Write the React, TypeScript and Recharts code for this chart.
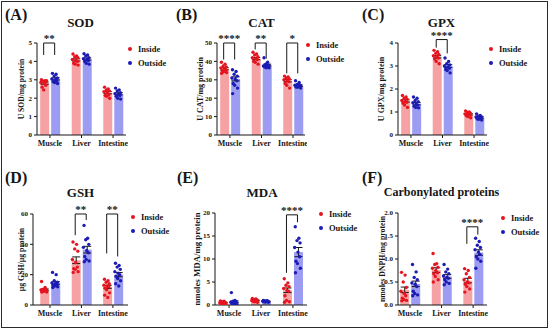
import { ComposedChart, Bar, Scatter, XAxis, YAxis, ErrorBar, ReferenceLine } from 'recharts';

const CATEGORIES = ['Muscle', 'Liver', 'Intestine'];
const SERIES = ['Inside', 'Outside'];

// (A) SOD
const SOD_IN = [
  [3.0, 2.95, 2.92, 2.9, 2.85, 2.8, 2.7, 2.6, 2.45, 2.95],
  [4.4, 4.3, 4.25, 4.2, 4.1, 4.05, 4.0, 3.9, 3.85, 3.8],
  [2.6, 2.5, 2.45, 2.4, 2.35, 2.3, 2.2, 2.15, 2.1, 2.0],
];
const SOD_OUT = [
  [3.35, 3.3, 3.2, 3.1, 3.05, 3.0, 2.95, 2.9, 2.85, 2.8],
  [4.42, 4.35, 4.3, 4.2, 4.15, 4.1, 4.05, 4.0, 3.9, 3.85],
  [2.55, 2.45, 2.4, 2.3, 2.25, 2.2, 2.15, 2.1, 2.0, 1.95],
];
const SOD_MEAN_IN = [2.82, 4.08, 2.3];
const SOD_MEAN_OUT = [3.05, 4.13, 2.24];
const SOD_SEM_IN = [0.06, 0.06, 0.06];
const SOD_SEM_OUT = [0.06, 0.06, 0.06];
const SOD_TICKS = [0, 1, 2, 3, 4, 5];
const SOD_SIG = [{ cat: 0, top: 5, left: 4.35, right: 4.35, label: '**' }];

// (B) CAT
const CAT_IN = [
  [39.5, 38.5, 37.5, 37, 36.5, 36, 35.5, 35, 34.5, 34, 33.5],
  [45, 44, 43.5, 42.5, 42, 41.5, 41, 40, 39.5, 38.5],
  [32, 31.5, 31, 30.5, 30, 29.5, 29, 28, 27, 25.5],
];
const CAT_OUT = [
  [35.5, 34.5, 33, 32, 31, 30.5, 29.5, 28, 27, 25.5, 22.5],
  [42, 39.5, 38.5, 38, 37.5, 37.5, 37, 37, 36.5, 36.5],
  [29.5, 28.5, 27.5, 27, 27, 26.5, 26.5, 26, 26, 25.5],
];
const CAT_MEAN_IN = [36, 41.5, 29.5];
const CAT_MEAN_OUT = [30.5, 38, 26.8];
const CAT_SEM_IN = [0.6, 0.6, 0.6];
const CAT_SEM_OUT = [1.1, 0.5, 0.4];
const CAT_TICKS = [0, 10, 20, 30, 40, 50];
const CAT_SIG = [
  { cat: 0, top: 50, left: 41, right: 41, label: '****' },
  { cat: 1, top: 50, left: 46.5, right: 41.5, label: '**' },
  { cat: 2, top: 50, left: 33.5, right: 33.5, label: '*' },
];

// (C) GPX
const GPX_IN = [
  [1.72, 1.65, 1.6, 1.55, 1.5, 1.45, 1.42, 1.38, 1.3, 1.2],
  [3.68, 3.62, 3.55, 3.5, 3.45, 3.4, 3.35, 3.3, 3.2, 3.1],
  [1.05, 1.0, 0.98, 0.95, 0.92, 0.9, 0.88, 0.85, 0.8, 0.75],
];
const GPX_OUT = [
  [1.65, 1.6, 1.5, 1.45, 1.4, 1.35, 1.3, 1.25, 1.2, 1.18],
  [3.35, 3.2, 3.1, 3.05, 3.0, 2.95, 2.9, 2.85, 2.8, 2.7],
  [0.92, 0.85, 0.82, 0.8, 0.78, 0.75, 0.72, 0.7, 0.68, 0.65],
];
const GPX_MEAN_IN = [1.48, 3.4, 0.9];
const GPX_MEAN_OUT = [1.36, 3.0, 0.76];
const GPX_SEM_IN = [0.05, 0.05, 0.03];
const GPX_SEM_OUT = [0.05, 0.06, 0.03];
const GPX_TICKS = [0, 1, 2, 3, 4];
const GPX_SIG = [{ cat: 1, top: 4.15, left: 3.8, right: 3.55, label: '****' }];

// (D) GSH
const GSH_IN = [
  [15.5, 11.5, 10.5, 10, 10, 9.5, 9.5, 9, 9, 8.5, 8.5],
  [41.5, 40, 37, 35.5, 30, 28, 25, 24, 23.5, 22, 21.5],
  [17, 16, 15, 14, 13, 12.5, 12, 11, 10, 8, 6.5, 5],
];
const GSH_OUT = [
  [21.5, 20, 16, 15, 14.5, 14, 13.5, 13, 12.5, 12, 11.5],
  [52.5, 44, 43, 40, 38, 36, 34.5, 32, 30, 29, 28.5],
  [27.5, 26, 25, 23.5, 22, 21, 20, 19, 17.5, 16, 14, 12.5],
];
const GSH_MEAN_IN = [10, 29.5, 12];
const GSH_MEAN_OUT = [14.5, 36.5, 20];
const GSH_SEM_IN = [0.6, 2.2, 1.0];
const GSH_SEM_OUT = [0.9, 2.2, 1.4];
const GSH_TICKS = [0, 20, 40, 60];
const GSH_SIG = [
  { cat: 1, top: 60, left: 46, right: 56, label: '**' },
  { cat: 2, top: 60, left: 34, right: 32, label: '**' },
];

// (E) MDA
const MDA_IN = [
  [0.9, 0.8, 0.7, 0.6, 0.5, 0.45, 0.4, 0.35, 0.3, 0.2],
  [1.4, 1.3, 1.2, 1.1, 1.0, 0.95, 0.9, 0.8, 0.7, 0.6],
  [5.7, 4.8, 4.3, 4.0, 3.6, 3.2, 3.0, 2.0, 1.0, 0.7, 0.6],
];
const MDA_OUT = [
  [2.7, 1.0, 0.8, 0.7, 0.6, 0.5, 0.4, 0.3, 0.25, 0.2],
  [1.0, 0.95, 0.9, 0.85, 0.8, 0.8, 0.75, 0.7, 0.65, 0.6],
  [17, 14.5, 14, 13.5, 12.5, 11.5, 10.5, 9.5, 9, 8, 7],
];
const MDA_MEAN_IN = [0.5, 1.0, 3.2];
const MDA_MEAN_OUT = [0.7, 0.8, 11.5];
const MDA_SEM_IN = [0.07, 0.08, 0.5];
const MDA_SEM_OUT = [0.2, 0.04, 1.0];
const MDA_TICKS = [0, 5, 10, 15, 20];
const MDA_SIG = [{ cat: 2, top: 19.6, left: 7, right: 18, label: '****' }];

// (F) Carbonylated proteins
const CARB_IN = [
  [0.71, 0.65, 0.5, 0.38, 0.3, 0.25, 0.2, 0.15, 0.12, 0.1, 0.09],
  [1.12, 0.9, 0.88, 0.82, 0.8, 0.75, 0.7, 0.68, 0.62, 0.55, 0.5],
  [0.79, 0.75, 0.68, 0.6, 0.55, 0.5, 0.48, 0.45, 0.4, 0.35, 0.28],
];
const CARB_OUT = [
  [0.88, 0.72, 0.6, 0.55, 0.48, 0.45, 0.4, 0.3, 0.25, 0.22, 0.2],
  [0.88, 0.78, 0.72, 0.68, 0.63, 0.6, 0.58, 0.55, 0.5, 0.47, 0.44],
  [1.45, 1.38, 1.3, 1.25, 1.2, 1.15, 1.1, 1.05, 1.0, 0.95, 0.8],
];
const CARB_MEAN_IN = [0.33, 0.76, 0.53];
const CARB_MEAN_OUT = [0.46, 0.62, 1.14];
const CARB_SEM_IN = [0.06, 0.05, 0.05];
const CARB_SEM_OUT = [0.06, 0.04, 0.06];
const CARB_TICKS = [0, 0.5, 1, 1.5, 2];
const CARB_SIG = [{ cat: 2, top: 1.7, left: 1.33, right: 1.53, label: '****' }];

const FONT = '"Liberation Serif", "Times New Roman", serif';
const PINK = '#F6A2A4';
const LILAC = '#9C9CF2';
const RED = '#E5141E';
const BLUE = '#1C1CB4';
const INK = '#161616';

const YW = 30; // y axis width
const TM = 22; // room above plot for the stars
const XH = 20; // x axis height
const RM = 2;
const BAR_W = 9;
const BAR_GAP = 2;
const JITTER = [-2.2, 1.4, -0.5, 2.6, -2.8, 0.5, 2.1, -1.5, 0, 2.9, -2, 1.1];

type Sig = { cat: number; top: number; left: number; right: number; label: string };

const PANELS = [
  { tag: '(A)', title: 'SOD', yLabel: 'U SOD/mg protein', inside: SOD_IN, outside: SOD_OUT, meanIn: SOD_MEAN_IN, meanOut: SOD_MEAN_OUT, semIn: SOD_SEM_IN, semOut: SOD_SEM_OUT, ticks: SOD_TICKS, sig: SOD_SIG, dec: 0 },
  { tag: '(B)', title: 'CAT', yLabel: 'U CAT/mg protein', inside: CAT_IN, outside: CAT_OUT, meanIn: CAT_MEAN_IN, meanOut: CAT_MEAN_OUT, semIn: CAT_SEM_IN, semOut: CAT_SEM_OUT, ticks: CAT_TICKS, sig: CAT_SIG, dec: 0 },
  { tag: '(C)', title: 'GPX', yLabel: 'U GPX/mg protein', inside: GPX_IN, outside: GPX_OUT, meanIn: GPX_MEAN_IN, meanOut: GPX_MEAN_OUT, semIn: GPX_SEM_IN, semOut: GPX_SEM_OUT, ticks: GPX_TICKS, sig: GPX_SIG, dec: 0 },
  { tag: '(D)', title: 'GSH', yLabel: 'µg GSH/µg protein', inside: GSH_IN, outside: GSH_OUT, meanIn: GSH_MEAN_IN, meanOut: GSH_MEAN_OUT, semIn: GSH_SEM_IN, semOut: GSH_SEM_OUT, ticks: GSH_TICKS, sig: GSH_SIG, dec: 0 },
  { tag: '(E)', title: 'MDA', yLabel: 'nmoles MDA/mg protein', inside: MDA_IN, outside: MDA_OUT, meanIn: MDA_MEAN_IN, meanOut: MDA_MEAN_OUT, semIn: MDA_SEM_IN, semOut: MDA_SEM_OUT, ticks: MDA_TICKS, sig: MDA_SIG, dec: 0 },
  { tag: '(F)', title: 'Carbonylated proteins', yLabel: 'nmoles DNPH/mg protein', inside: CARB_IN, outside: CARB_OUT, meanIn: CARB_MEAN_IN, meanOut: CARB_MEAN_OUT, semIn: CARB_SEM_IN, semOut: CARB_SEM_OUT, ticks: CARB_TICKS, sig: CARB_SIG, dec: 1 },
];

// page geometry of each panel (plot box, label spots)
const LAYOUT = [
  { x0: 37, x1: 126, y0: 43, y1: 135, dom: [0.59, 3.41], labelX: 21, labelSize: 7.6, tagX: 5, tagY: 7, titleX: 80.5, titleY: 16, titleSize: 13, legX: 130, legY: 49 },
  { x0: 217, x1: 305, y0: 43, y1: 135, dom: [0.59, 3.38], labelX: 200, labelSize: 8, tagX: 176, tagY: 7, titleX: 261.5, titleY: 16, titleSize: 13, legX: 308, legY: 45 },
  { x0: 398, x1: 487, y0: 43, y1: 135, dom: [0.59, 3.41], labelX: 381, labelSize: 8, tagX: 362, tagY: 7, titleX: 441.5, titleY: 16, titleSize: 13, legX: 491, legY: 49 },
  { x0: 33, x1: 128, y0: 214, y1: 305, dom: [0.46, 3.48], labelX: 21, labelSize: 7.8, tagX: 5, tagY: 170, titleX: 80.5, titleY: 186, titleSize: 13, legX: 133, legY: 217 },
  { x0: 215, x1: 307, y0: 213, y1: 305, dom: [0.56, 3.44], labelX: 197, labelSize: 8.8, tagX: 177, tagY: 170, titleX: 262, titleY: 186, titleSize: 13, legX: 321, legY: 214 },
  { x0: 398, x1: 487, y0: 213, y1: 305, dom: [0.62, 3.44], labelX: 382, labelSize: 7.8, tagX: 362, tagY: 170, titleX: 441.5, titleY: 186, titleSize: 12, legX: 503, legY: 218 },
];

const dot = (color: string) => (props: any) =>
  <circle cx={props.cx} cy={props.cy} r={1.7} fill={color} />;

function Panel({ p, l }: { p: (typeof PANELS)[number]; l: (typeof LAYOUT)[number] }) {
  const ppu = (l.x1 - l.x0) / (l.dom[1] - l.dom[0]);
  // bars sit on a hidden band axis whose bands line up with the numeric axis (one unit per category)
  const padL = (0.5 - l.dom[0]) * ppu;
  const padR = (l.dom[1] - 3.5) * ppu;
  const lead = Math.floor((ppu - (2 * BAR_W + BAR_GAP)) / 2);
  const inShift = (-ppu / 2 + lead + BAR_W / 2) / ppu;
  const outShift = inShift + (BAR_W + BAR_GAP) / ppu;

  const rows = CATEGORIES.map((name, i) => ({
    x: i + 1,
    name,
    inside: p.meanIn[i],
    outside: p.meanOut[i],
    inErr: p.semIn[i],
    outErr: p.semOut[i],
  }));
  const toDots = (groups: number[][], shift: number) =>
    groups.flatMap((vals, i) =>
      vals.map((y, j) => ({ x: i + 1 + shift + JITTER[j % JITTER.length] / ppu, y })),
    );
  const yMax = p.ticks[p.ticks.length - 1];
  const left = l.x0 - YW;
  const top = l.y0 - TM;
  const text = { fontFamily: FONT, fontWeight: 700, fill: INK };

  return (
    <>
      <div style={{ position: 'absolute', left, top }}>
        <ComposedChart
          width={l.x1 - l.x0 + YW + RM}
          height={l.y1 - l.y0 + TM + XH}
          data={rows}
          margin={{ top: TM, right: RM, bottom: 0, left: 0 }}
          barGap={BAR_GAP}
        >
          <XAxis
            type="number"
            dataKey="x"
            domain={l.dom}
            ticks={[1, 2, 3]}
            allowDataOverflow
            interval={0}
            height={XH}
            tickSize={3}
            tickFormatter={(v: number) => CATEGORIES[v - 1]}
            tick={{ ...text, fontSize: 8 }}
            axisLine={{ stroke: INK }}
            tickLine={{ stroke: INK }}
          />
          <XAxis xAxisId="band" type="category" dataKey="name" hide padding={{ left: padL, right: padR }} />
          <YAxis
            type="number"
            domain={[0, yMax]}
            ticks={p.ticks}
            allowDataOverflow
            width={YW}
            tickSize={3}
            tickFormatter={(v: number) => v.toFixed(p.dec)}
            tick={{ ...text, fontSize: 7 }}
            axisLine={{ stroke: INK }}
            tickLine={{ stroke: INK }}
            label={{
              value: p.yLabel,
              angle: -90,
              position: 'insideLeft',
              offset: l.labelX - left,
              style: { textAnchor: 'middle', fontFamily: FONT, fontWeight: 700, fontSize: l.labelSize, fill: INK },
            }}
          />
          <Bar xAxisId="band" dataKey="inside" fill={PINK} barSize={BAR_W} isAnimationActive={false}>
            <ErrorBar dataKey="inErr" width={4} stroke={INK} strokeWidth={1} />
          </Bar>
          <Bar xAxisId="band" dataKey="outside" fill={LILAC} barSize={BAR_W} isAnimationActive={false}>
            <ErrorBar dataKey="outErr" width={4} stroke={INK} strokeWidth={1} />
          </Bar>
          <Scatter data={toDots(p.inside, inShift)} dataKey="y" shape={dot(RED)} isAnimationActive={false} />
          <Scatter data={toDots(p.outside, outShift)} dataKey="y" shape={dot(BLUE)} isAnimationActive={false} />
          {p.sig.flatMap((s: Sig, k: number) => {
            const a = s.cat + 1 + inShift;
            const b = s.cat + 1 + outShift;
            return [
              <ReferenceLine key={`l${k}`} segment={[{ x: a, y: s.left }, { x: a, y: s.top }]} stroke={INK} ifOverflow="visible" />,
              <ReferenceLine
                key={`t${k}`}
                segment={[{ x: a, y: s.top }, { x: b, y: s.top }]}
                stroke={INK}
                ifOverflow="visible"
                label={{ value: s.label, position: 'top', offset: 1, fontFamily: FONT, fontWeight: 700, fontSize: 11, fill: INK }}
              />,
              <ReferenceLine key={`r${k}`} segment={[{ x: b, y: s.top }, { x: b, y: s.right }]} stroke={INK} ifOverflow="visible" />,
            ];
          })}
        </ComposedChart>
      </div>
      <div style={{ position: 'absolute', left: l.tagX, top: l.tagY, fontFamily: FONT, fontWeight: 700, fontSize: 16, lineHeight: 1, color: INK }}>
        {p.tag}
      </div>
      <div
        style={{
          position: 'absolute',
          left: l.titleX - 80,
          width: 160,
          top: l.titleY,
          textAlign: 'center',
          fontFamily: FONT,
          fontWeight: 700,
          fontSize: l.titleSize,
          lineHeight: 1,
          color: INK,
        }}
      >
        {p.title}
      </div>
      {SERIES.map((name, i) => (
        <div
          key={name}
          style={{
            position: 'absolute',
            left: l.legX - 2,
            top: l.legY + i * 14 - 5,
            height: 10,
            display: 'flex',
            alignItems: 'center',
            fontFamily: FONT,
            fontWeight: 700,
            fontSize: 8.5,
            color: INK,
            whiteSpace: 'nowrap',
          }}
        >
          <span style={{ width: 4, height: 4, borderRadius: 2, background: i === 0 ? RED : BLUE, marginRight: 6 }} />
          {name}
        </div>
      ))}
    </>
  );
}

export default function App() {
  return (
    <div style={{ position: 'absolute', left: 0, top: 0, width: 550, height: 332, background: '#fff', overflow: 'hidden' }}>
      <div
        style={{
          position: 'absolute',
          left: 1,
          top: 1,
          width: 547,
          height: 327,
          boxSizing: 'border-box',
          border: '1.5px solid #2a2a2a',
        }}
      />
      {PANELS.map((p, i) => (
        <Panel key={p.tag} p={p} l={LAYOUT[i]} />
      ))}
    </div>
  );
}
